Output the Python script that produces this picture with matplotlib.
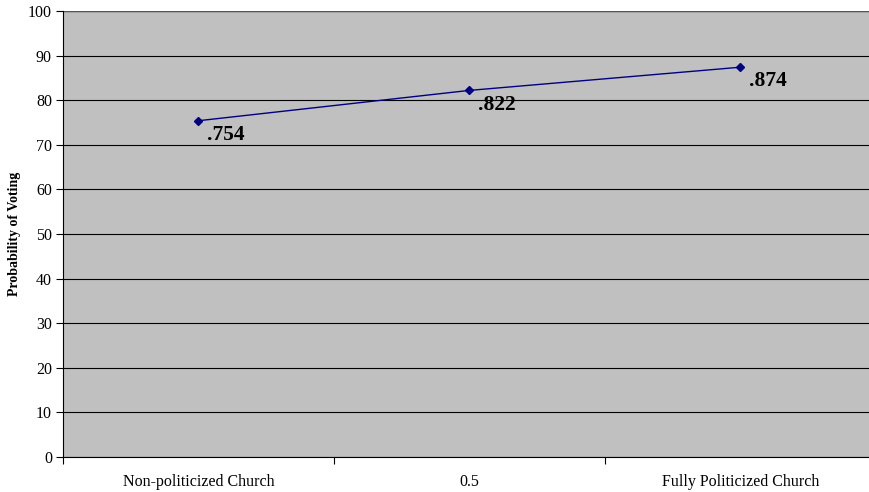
import matplotlib
matplotlib.use("Agg")
import matplotlib.pyplot as plt
from matplotlib.ticker import FixedLocator, NullFormatter

categories = ["Non-politicized Church", "0.5", "Fully Politicized Church"]
probability = [75.4, 82.2, 87.4]
point_labels = [".754", ".822", ".874"]
y_ticks = [0, 10, 20, 30, 40, 50, 60, 70, 80, 90, 100]

plt.rcParams["font.family"] = ["Liberation Serif", "DejaVu Serif"]

fig = plt.figure(figsize=(8.7, 4.92), dpi=100)
ax = fig.add_axes([63 / 870, 1 - 457 / 492, 813 / 870, 446 / 492])
ax.set_facecolor("#C0C0C0")

x = list(range(len(categories)))
ax.plot(x, probability, color="#000080", linewidth=1.0, marker="D",
        markersize=4, markerfacecolor="#000080", markeredgecolor="#000080",
        zorder=3)
for xi, yi, lab in zip(x, probability, point_labels):
    ax.annotate(lab, (xi, yi), xytext=(6, -3), textcoords="offset points",
                ha="left", va="top", fontsize=15.5, fontweight="bold",
                color="black")

ax.set_xlim(-0.5, len(categories) - 0.5)
ax.set_ylim(0, 100)
ax.set_yticks(y_ticks)
ax.set_yticklabels([str(t) for t in y_ticks], fontsize=11.5)
ax.yaxis.grid(True, color="black", linewidth=0.8)
ax.set_axisbelow(True)

# Category labels centred, tick marks on boundaries
ax.xaxis.set_major_locator(FixedLocator([i - 0.5 for i in range(len(categories) + 1)]))
ax.xaxis.set_major_formatter(NullFormatter())
ax.xaxis.set_minor_locator(FixedLocator(x))
ax.set_xticklabels(categories, minor=True, fontsize=11.5)
ax.tick_params(axis="x", which="minor", length=0, pad=12)
ax.tick_params(axis="x", which="major", length=5, width=0.8, direction="out")
ax.tick_params(axis="y", length=5, width=0.8, direction="out", pad=3)

ax.set_ylabel("Probability of Voting", fontsize=10, fontweight="bold", labelpad=5)

for side in ["top", "right"]:
    ax.spines[side].set_visible(False)
ax.spines["left"].set_color("black")
ax.spines["bottom"].set_color("black")
ax.axhline(100, color="#555555", linewidth=1.0)

fig.savefig("out.png", dpi=100)
